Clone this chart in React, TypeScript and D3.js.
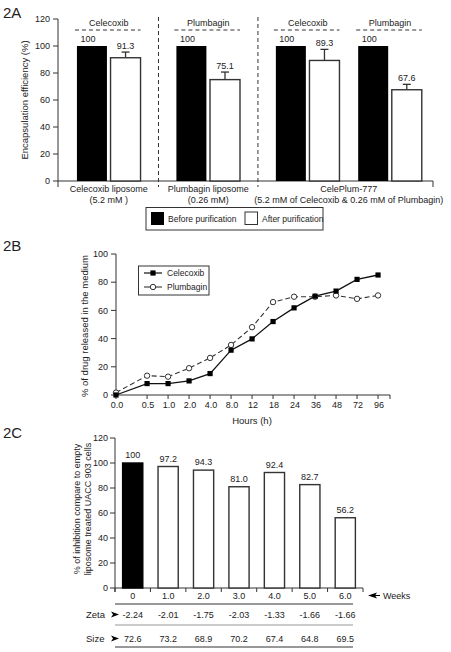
import React from "react";
import * as d3 from "d3";

// ---------- DATA ----------
// 2A
const groupNames = ["Celecoxib liposome", "Plumbagin liposome", "CelePlum-777"];
const groupSub = ["(5.2 mM )", "(0.26 mM)", "(5.2 mM of Celecoxib & 0.26 mM of Plumbagin)"];
const pairDrug = ["Celecoxib", "Plumbagin", "Celecoxib", "Plumbagin"];
const pairGroup = [0, 1, 2, 2];
const beforeVals = [100, 100, 100, 100];
const afterVals = [91.3, 75.1, 89.3, 67.6];
const afterErr = [4.2, 5.6, 8.2, 4.0];
const ticks2A = [0, 20, 40, 60, 80, 100, 120];
const legend2A = ["Before purification", "After purification"];

// 2B
const hours = ["0.0", "0.5", "1.0", "2.0", "4.0", "8.0", "12", "18", "24", "36", "48", "72", "96"];
const celecoxibRel = [0, 8.1, 8.1, 10, 15.2, 31.8, 39.8, 52.1, 61.8, 70.1, 73.7, 82, 85.1];
const plumbaginRel = [1.7, 13.7, 13, 19, 26.3, 35.5, 48.1, 65.9, 69.7, 69.7, 70.6, 68.2, 70.6];
const ticks2B = [0, 20, 40, 60, 80, 100];

// 2C
const weeks = ["0", "1.0", "2.0", "3.0", "4.0", "5.0", "6.0"];
const inhibition = [100, 97.2, 94.3, 81.0, 92.4, 82.7, 56.2];
const inhibitionLabels = ["100", "97.2", "94.3", "81.0", "92.4", "82.7", "56.2"];
const zeta = ["-2.24", "-2.01", "-1.75", "-2.03", "-1.33", "-1.66", "-1.66"];
const size = ["72.6", "73.2", "68.9", "70.2", "67.4", "64.8", "69.5"];
const ticks2C = [0, 20, 40, 60, 80, 100, 120];

const FONT = "'Liberation Sans', Arial, Helvetica, sans-serif";
const INK = "#222";
const AX = "#333";

function Panel2A() {
  const y = d3.scaleLinear().domain([0, 120]).range([181, 19]);
  // slot positions derived from structure: bar index + group gaps + within-group pair gap
  const slotOf = (pair: number, k: number) => {
    const bar = pair * 2 + k;
    const g = pairGroup[pair];
    const within = pairGroup.slice(0, pair).filter((v) => v === g).length;
    return bar + g * 0.96 + within * 0.45;
  };
  const x = d3.scaleLinear().domain([-1.01, 10.15]).range([58, 433]);
  const bw = 30;
  const xl = x(-1.01), xr = x(10.15);
  const seps = [1, 2].map((g) => {
    const lastPrev = pairGroup.lastIndexOf(g - 1);
    const firstNext = pairGroup.indexOf(g);
    return x((slotOf(lastPrev, 1) + slotOf(firstNext, 0)) / 2);
  });
  return (
    <g>
      <text x={3} y={18} fontSize={15} fill={INK}>2A</text>
      {/* y axis */}
      <line x1={xl} x2={xl} y1={y(120)} y2={y(0) + 6} stroke={AX} strokeWidth={1} />
      {ticks2A.map((t) => (
        <g key={t}>
          <line x1={xl - 5} x2={xl} y1={y(t)} y2={y(t)} stroke={AX} />
          <text x={xl - 8} y={y(t) + 3.2} fontSize={9} textAnchor="end" fill={INK}>{t}</text>
        </g>
      ))}
      <line x1={xl} x2={xr} y1={y(0)} y2={y(0)} stroke={AX} />
      <line x1={xr} x2={xr} y1={y(0)} y2={y(0) + 6} stroke={AX} />
      <text transform={`translate(28,${100}) rotate(-90)`} fontSize={9.5} textAnchor="middle" fill={INK}>
        Encapsulation efficiency (%)
      </text>
      {seps.map((sx, i) => (
        <line key={i} x1={sx} x2={sx} y1={17} y2={y(0) + 6} stroke={AX} strokeDasharray="4,3" strokeWidth={1} />
      ))}
      {pairDrug.map((d, p) => {
        const cb = x(slotOf(p, 0));
        const ca = x(slotOf(p, 1));
        const errTop = y(afterVals[p] + afterErr[p]);
        return (
          <g key={p}>
            <text x={(cb + ca) / 2} y={26} fontSize={9} textAnchor="middle" fill={INK}>{d}</text>
            <line x1={cb - bw / 2 - 2} x2={ca + bw / 2} y1={30} y2={30} stroke={AX} strokeDasharray="4,3" />
            <rect x={cb - bw / 2} y={y(beforeVals[p])} width={bw} height={y(0) - y(beforeVals[p])} fill="#000" />
            <text x={cb - 4} y={y(beforeVals[p]) - 4} fontSize={9} textAnchor="middle" fill={INK}>{beforeVals[p]}</text>
            <line x1={ca} x2={ca} y1={y(afterVals[p])} y2={errTop} stroke={AX} strokeWidth={1.3} />
            <line x1={ca - 4} x2={ca + 4} y1={errTop} y2={errTop} stroke={AX} strokeWidth={1.3} />
            <rect x={ca - bw / 2} y={y(afterVals[p])} width={bw} height={y(0) - y(afterVals[p])} fill="#fff" stroke={AX} strokeWidth={1.4} />
            <text x={ca} y={errTop - 3} fontSize={9} textAnchor="middle" fill={INK}>{afterVals[p]}</text>
          </g>
        );
      })}
      {groupNames.map((gname, g) => {
        const pairs = pairGroup.map((v, i) => (v === g ? i : -1)).filter((i) => i >= 0);
        const c = (x(slotOf(pairs[0], 0)) + x(slotOf(pairs[pairs.length - 1], 1))) / 2;
        return (
          <g key={g}>
            <text x={c} y={192} fontSize={9} textAnchor="middle" fill={INK}>{gname}</text>
            <text x={c} y={203} fontSize={9} textAnchor="middle" fill={INK}>{groupSub[g]}</text>
          </g>
        );
      })}
      {/* legend */}
      <rect x={146} y={207.5} width={177} height={22.5} fill="#fff" stroke={AX} strokeWidth={1} />
      <rect x={151} y={212} width={13} height={13} fill="#000" />
      <text x={168} y={222} fontSize={8.5} fill={INK}>{legend2A[0]}</text>
      <rect x={245} y={212} width={12.5} height={12.5} fill="#fff" stroke={AX} strokeWidth={1} />
      <text x={262} y={222} fontSize={8.5} fill={INK}>{legend2A[1]}</text>
    </g>
  );
}

function Panel2B() {
  const y = d3.scaleLinear().domain([0, 100]).range([395, 254]);
  const slot = (i: number) => (i === 0 ? 0 : i + 0.48);
  const x = d3.scaleLinear().domain([0, 13.05]).range([116, 390]);
  const line = d3
    .line<number>()
    .x((_, i) => x(slot(i)))
    .y((v) => y(v));
  return (
    <g>
      <text x={3} y={251} fontSize={15} fill={INK}>2B</text>
      <line x1={116} x2={116} y1={y(100)} y2={y(0)} stroke={AX} />
      {ticks2B.map((t) => (
        <g key={t}>
          <line x1={111} x2={116} y1={y(t)} y2={y(t)} stroke={AX} />
          <text x={108} y={y(t) + 3.2} fontSize={9} textAnchor="end" fill={INK}>{t}</text>
        </g>
      ))}
      <line x1={116} x2={x(13.05)} y1={y(0)} y2={y(0)} stroke={AX} />
      <line x1={x(13.05)} x2={x(13.05)} y1={y(0)} y2={y(0) + 4} stroke={AX} />
      {hours.map((h, i) => (
        <g key={h}>
          <line x1={x(slot(i))} x2={x(slot(i))} y1={y(0)} y2={y(0) + 4} stroke={AX} />
          <text x={x(slot(i)) + 1} y={408} fontSize={9} textAnchor="middle" fill={INK}>{h}</text>
        </g>
      ))}
      <text x={252} y={424} fontSize={9.5} textAnchor="middle" fill={INK}>Hours (h)</text>
      <text transform={`translate(88,${326}) rotate(-90)`} fontSize={9.5} textAnchor="middle" fill={INK}>
        % of drug released in the medium
      </text>
      <path d={line(plumbaginRel) || ""} fill="none" stroke={AX} strokeWidth={1.1} strokeDasharray="5,3" />
      <path d={line(celecoxibRel) || ""} fill="none" stroke="#111" strokeWidth={1.3} />
      {plumbaginRel.map((v, i) => (
        <circle key={i} cx={x(slot(i))} cy={y(v)} r={2.7} fill="#fff" stroke={AX} strokeWidth={1} />
      ))}
      {celecoxibRel.map((v, i) => (
        <rect key={i} x={x(slot(i)) - 2.6} y={y(v) - 2.6} width={5.2} height={5.2} fill="#000" />
      ))}
      {/* legend */}
      <rect x={138.5} y={266} width={70.5} height={29} fill="#fff" stroke={AX} strokeWidth={1} />
      <line x1={144} x2={162} y1={273} y2={273} stroke="#111" strokeWidth={1.2} />
      <rect x={150.4} y={270.4} width={5.2} height={5.2} fill="#000" />
      <text x={167} y={276.2} fontSize={8.5} fill={INK}>Celecoxib</text>
      <line x1={144} x2={162} y1={287} y2={287} stroke={AX} strokeWidth={1.1} />
      <circle cx={153} cy={287} r={2.7} fill="#fff" stroke={AX} />
      <text x={167} y={290.2} fontSize={8.5} fill={INK}>Plumbagin</text>
    </g>
  );
}

function Panel2C() {
  const y = d3.scaleLinear().domain([0, 120]).range([588, 438]);
  const x = d3.scaleBand<string>().domain(weeks).range([115, 363]).paddingInner(0.43).paddingOuter(0.215);
  const bounds = d3.range(weeks.length + 1).map((i) => 115 + i * (248 / weeks.length));
  const cx = (w: string) => (x(w) as number) + x.bandwidth() / 2;
  return (
    <g>
      <text x={3} y={438} fontSize={15} fill={INK}>2C</text>
      <line x1={115} x2={115} y1={y(120)} y2={y(0) + 4} stroke={AX} />
      {ticks2C.map((t) => (
        <g key={t}>
          <line x1={110} x2={115} y1={y(t)} y2={y(t)} stroke={AX} />
          <text x={108} y={y(t) + 3.2} fontSize={9} textAnchor="end" fill={INK}>{t}</text>
        </g>
      ))}
      <line x1={115} x2={363} y1={y(0)} y2={y(0)} stroke={AX} />
      {bounds.map((b, i) => (
        <line key={i} x1={b} x2={b} y1={y(0)} y2={y(0) + 4} stroke={AX} />
      ))}
      <text transform={`translate(80,509) rotate(-90)`} fontSize={9} textAnchor="middle" fill={INK}>
        % of inhibition compare to empty
      </text>
      <text transform={`translate(91,509) rotate(-90)`} fontSize={9} textAnchor="middle" fill={INK}>
        liposome treated UACC 903 cells
      </text>
      {weeks.map((w, i) => (
        <g key={w}>
          <rect
            x={x(w)}
            y={y(inhibition[i])}
            width={x.bandwidth()}
            height={y(0) - y(inhibition[i])}
            fill={i === 0 ? "#000" : "#fff"}
            stroke={i === 0 ? "#000" : AX}
            strokeWidth={1.4}
          />
          <text x={cx(w)} y={y(inhibition[i]) - 5} fontSize={9} textAnchor="middle" fill={INK}>{inhibitionLabels[i]}</text>
          <text x={cx(w)} y={599} fontSize={9} textAnchor="middle" fill={INK}>{w}</text>
          <text x={cx(w)} y={617.5} fontSize={9} textAnchor="middle" fill={INK}>{zeta[i]}</text>
          <text x={cx(w)} y={641.5} fontSize={9} textAnchor="middle" fill={INK}>{size[i]}</text>
        </g>
      ))}
      <path d="M368,595.5 L377,592.5 L375,595.5 L377,598.5 Z" fill="#000" />
      <line x1={375} x2={380} y1={595.5} y2={595.5} stroke="#000" />
      <text x={383} y={598.5} fontSize={9} fill={INK}>Weeks</text>
      <line x1={115} x2={353} y1={604} y2={604} stroke={AX} />
      <line x1={115} x2={353} y1={625} y2={625} stroke="#999" />
      <line x1={115} x2={353} y1={647} y2={647} stroke={AX} />
      <text x={86} y={617.5} fontSize={9.5} fill={INK}>Zeta</text>
      <path d="M111,611.5 L119,614.5 L111,617.5 L113,614.5 Z" fill="#000" />
      <text x={86} y={641.5} fontSize={9.5} fill={INK}>Size</text>
      <path d="M111,635.5 L119,638.5 L111,641.5 L113,638.5 Z" fill="#000" />
    </g>
  );
}

export default function App() {
  return (
    <svg
      width={451}
      height={652}
      viewBox="0 0 451 652"
      style={{ position: "absolute", left: 0, top: 0, background: "#fff" }}
      fontFamily={FONT}
    >
      <rect width={451} height={652} fill="#fff" />
      <Panel2A />
      <Panel2B />
      <Panel2C />
    </svg>
  );
}
